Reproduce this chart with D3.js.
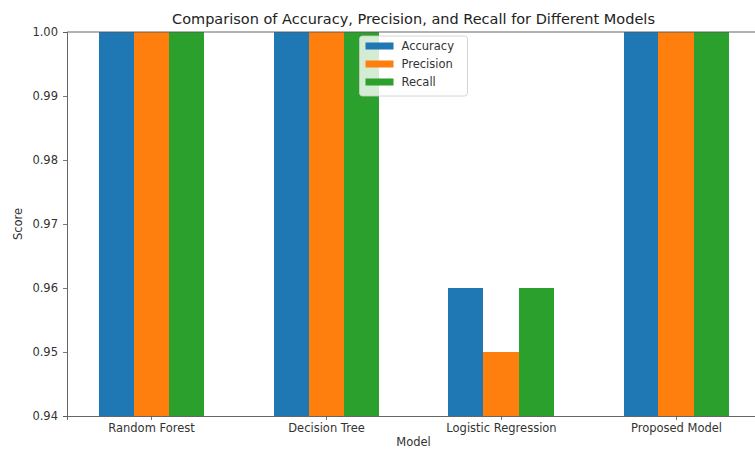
<!DOCTYPE html>
<html><head><meta charset="utf-8">
<script src="https://cdn.jsdelivr.net/npm/d3@7"></script>
<style>body{margin:0;background:#fff}svg{display:block;font-family:"DejaVu Sans",sans-serif}</style>
</head><body><svg id="c" width="755" height="450"></svg>
<script>
const models = ["Random Forest","Decision Tree","Logistic Regression","Proposed Model"];
const seriesNames = ["Accuracy","Precision","Recall"];
const accuracy = [1.00, 1.00, 0.96, 1.00];
const precision = [1.00, 1.00, 0.95, 1.00];
const recall = [1.00, 1.00, 0.96, 1.00];
const yTicks = [0.94,0.95,0.96,0.97,0.98,0.99,1.00];
const colors = ["#1f77b4","#ff7f0e","#2ca02c"];
const series = [accuracy, precision, recall];

const svg = d3.select("#c");
const L=67, T=32, B=416, unit=175;
const x = d3.scaleLinear().domain([-0.48, 3.48]).range([L, L+3.96*unit]);
const y = d3.scaleLinear().domain([0.94, 1.00]).range([B, T]);
const bw = 0.2;

svg.append("clipPath").attr("id","cp").append("rect")
  .attr("x",L).attr("y",T).attr("width",x(3.48)-L).attr("height",B-T);
const g = svg.append("g").attr("clip-path","url(#cp)");
series.forEach((vals,si)=>{
  g.selectAll(null).data(vals).enter().append("rect")
    .attr("x",(d,i)=>Math.round(x(i+(si-1)*bw-bw/2)))
    .attr("width",(d,i)=>Math.round(x(i+(si-1)*bw+bw/2))-Math.round(x(i+(si-1)*bw-bw/2)))
    .attr("y",d=>Math.round(y(d))).attr("height",d=>B-Math.round(y(d)))
    .attr("shape-rendering","crispEdges")
    .attr("fill",colors[si]);
});

const fs = "11.5px";
const xa = svg.append("g").attr("transform",`translate(0,${B})`)
  .call(d3.axisBottom(x).tickValues([0,1,2,3]).tickFormat(i=>models[i]).tickSizeOuter(0).tickSize(4).tickPadding(3.5));
const ya = svg.append("g").attr("transform",`translate(${L},0)`)
  .call(d3.axisLeft(y).tickValues(yTicks).tickFormat(d3.format(".2f")).tickSizeOuter(0).tickSize(4).tickPadding(5));
[xa,ya].forEach(a=>{
  a.selectAll("text").attr("font-size",fs).attr("fill","#333").attr("font-family","DejaVu Sans");
  a.selectAll("line").attr("stroke","#555").attr("stroke-width",0.8);
  a.select(".domain").attr("stroke","#555").attr("stroke-width",0.9);
});
svg.append("line").attr("x1",L).attr("x2",x(3.48)).attr("y1",T).attr("y2",T).attr("stroke","#555").attr("stroke-width",0.9);
svg.append("line").attr("x1",x(3.48)).attr("x2",x(3.48)).attr("y1",T).attr("y2",B).attr("stroke","#555").attr("stroke-width",0.9);

const cx = (L + x(3.48))/2;
svg.append("text").attr("x",cx).attr("y",24).attr("text-anchor","middle")
  .attr("font-size","14.5px").attr("fill","#222").text("Comparison of Accuracy, Precision, and Recall for Different Models");
svg.append("text").attr("x",cx).attr("y",446).attr("text-anchor","middle")
  .attr("font-size",fs).attr("fill","#333").text("Model");
svg.append("text").attr("transform","translate(22,224) rotate(-90)").attr("text-anchor","middle")
  .attr("font-size",fs).attr("fill","#333").text("Score");

const lw=108, lh=60, lx=cx-lw/2, ly=36;
const lg = svg.append("g");
lg.append("rect").attr("x",lx).attr("y",ly).attr("width",lw).attr("height",lh).attr("rx",3)
  .attr("fill","#fff").attr("fill-opacity",0.8).attr("stroke","#ccc").attr("stroke-width",0.8);
seriesNames.forEach((n,i)=>{
  const yy = ly+10+i*18;
  lg.append("rect").attr("x",lx+6).attr("y",yy-3.5).attr("width",28).attr("height",7).attr("fill",colors[i]);
  lg.append("text").attr("x",lx+42).attr("y",yy+4).attr("font-size",fs).attr("fill","#333").text(n);
});
</script></body></html>
